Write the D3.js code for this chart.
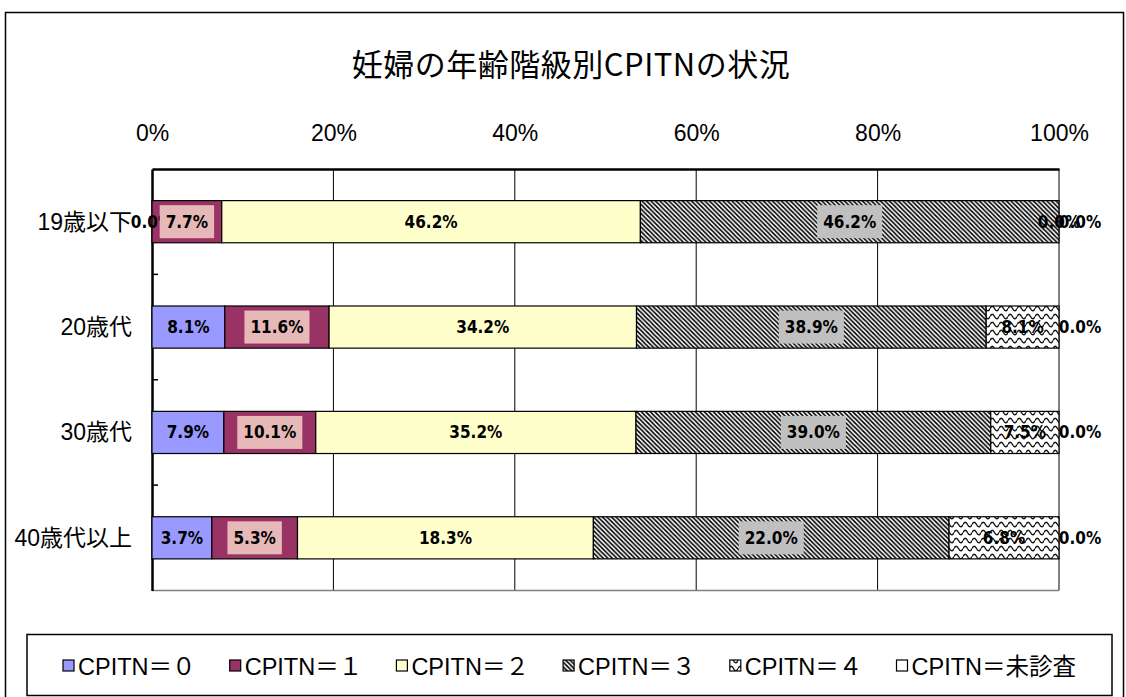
<!DOCTYPE html>
<html><head><meta charset="utf-8">
<script src="https://cdn.jsdelivr.net/npm/d3@7"></script>
<style>
html,body{margin:0;padding:0;background:#fff;}
svg{display:block;}
</style></head>
<body>
<svg id="chart" width="1126" height="697"></svg>
<script>
const title = "妊婦の年齢階級別CPITNの状況";
const categories = ["19歳以下", "20歳代", "30歳代", "40歳代以上"];
const seriesNames = ["CPITN＝０", "CPITN＝１", "CPITN＝２", "CPITN＝３", "CPITN＝４", "CPITN＝未診査"];
const cpitn0 = [0.0, 8.1, 7.9, 3.7];
const cpitn1 = [7.7, 11.6, 10.1, 5.3];
const cpitn2 = [46.2, 34.2, 35.2, 18.3];
const cpitn3 = [46.2, 38.9, 39.0, 22.0];
const cpitn4 = [0.0, 8.1, 7.5, 6.8];
const cpitnNone = [0.0, 0.0, 0.0, 0.0];
const xTickValues = [0, 0.2, 0.4, 0.6, 0.8, 1.0];
const xTickLabels = ["0%", "20%", "40%", "60%", "80%", "100%"];

const seriesValues = [cpitn0, cpitn1, cpitn2, cpitn3, cpitn4, cpitnNone];
const table = categories.map((c, i) => {
  const row = {category: c};
  seriesNames.forEach((s, j) => row[s] = seriesValues[j][i]);
  return row;
});

const svg = d3.select("#chart");
const defs = svg.append("defs");

// hatch pattern (dark diagonal)
const hatch = defs.append("pattern").attr("id", "hatch").attr("patternUnits", "userSpaceOnUse")
  .attr("width", 4.5).attr("height", 4.5);
hatch.append("rect").attr("width", 4.5).attr("height", 4.5).attr("fill", "#fff");
hatch.append("path").attr("d", "M-1,-1L5.5,5.5M3.5,-1L5.5,1M-1,3.5L1,5.5")
  .attr("stroke", "#000").attr("stroke-width", 1.6);

// wave pattern
const wave = defs.append("pattern").attr("id", "wave").attr("patternUnits", "userSpaceOnUse")
  .attr("width", 9).attr("height", 8);
wave.append("rect").attr("width", 9).attr("height", 8).attr("fill", "#fff");
wave.append("path").attr("d", "M0,4.5Q2.25,0 4.5,4.5T9,4.5")
  .attr("fill", "none").attr("stroke", "#111").attr("stroke-width", 1.4);

const fills = ["#9999FF", "#993366", "#FFFFCC", "url(#hatch)", "url(#wave)", "#FFFFFF"];
const labelBg = [null, "#E6B8B7", null, "#C0C0C0", null, null];

// outer chart border
svg.append("rect").attr("x", 5.5).attr("y", 12.5).attr("width", 1118).attr("height", 720)
  .attr("fill", "none").attr("stroke", "#000").attr("stroke-width", 1.5);

// title
svg.append("text").attr("x", 571).attr("y", 62).attr("text-anchor", "middle")
  .attr("dominant-baseline", "central")
  .style("font-family", "'Noto Sans CJK JP', sans-serif").style("font-size", "31px")
  .style("letter-spacing", "0.5px")
  .text(title);

const plot = {left: 152, right: 1059, top: 169, bottom: 590.5};
const x = d3.scaleLinear().domain([0, 1]).range([plot.left, plot.right]);
const y = d3.scaleBand().domain(categories).range([plot.top, plot.bottom])
  .paddingInner(0.6).paddingOuter(0.3);

// gridlines
svg.append("g").selectAll("line").data(xTickValues.slice(1, -1)).join("line")
  .attr("x1", d => x(d)).attr("x2", d => x(d))
  .attr("y1", plot.top).attr("y2", plot.bottom)
  .attr("stroke", "#000").attr("stroke-width", 1);

// plot border right/bottom grey
svg.append("line").attr("x1", x(1)).attr("x2", x(1)).attr("y1", plot.top).attr("y2", plot.bottom)
  .attr("stroke", "#808080").attr("stroke-width", 2);
svg.append("line").attr("x1", plot.left).attr("x2", plot.right).attr("y1", plot.bottom).attr("y2", plot.bottom)
  .attr("stroke", "#808080").attr("stroke-width", 1.5);

// top axis
const xAxis = d3.axisTop(x).tickValues(xTickValues).tickFormat((d, i) => xTickLabels[i]).tickSize(0).tickPadding(0);
const gx = svg.append("g").attr("transform", `translate(0,${plot.top})`).call(xAxis);
gx.select(".domain").attr("stroke", "#000").attr("stroke-width", 2.5);
gx.selectAll("text").attr("y", 0).attr("dy", null).attr("transform", "translate(0,-36)")
  .attr("dominant-baseline", "central")
  .style("font-family", "'Liberation Sans', Arial, sans-serif").style("font-size", "23px").attr("fill", "#000");

// left axis
const yAxis = d3.axisLeft(y).tickSize(0).tickPadding(20);
const gy = svg.append("g").attr("transform", `translate(${plot.left},0)`).call(yAxis);
gy.select(".domain").attr("stroke", "#000").attr("stroke-width", 2.5);
gy.selectAll("text").attr("dy", null).attr("dominant-baseline", "central")
  .style("font-family", "'Liberation Sans', 'Noto Sans CJK JP', sans-serif").style("font-size", "23px").attr("fill", "#000");
// inward category boundary ticks
const boundaries = categories.slice(1).map(c => y(c) - y.step() * y.paddingInner() / 2);
svg.append("g").selectAll("line").data(boundaries).join("line")
  .attr("x1", plot.left).attr("x2", plot.left + 6).attr("y1", d => d).attr("y2", d => d)
  .attr("stroke", "#000").attr("stroke-width", 1.5);

// stacked bars (100% stacked)
const stack = d3.stack().keys(seriesNames).offset(d3.stackOffsetExpand);
const stacked = stack(table);

const gBars = svg.append("g");
stacked.forEach((layer, si) => {
  gBars.append("g").selectAll("rect").data(layer).join("rect")
    .attr("x", d => x(d[0])).attr("width", d => Math.max(0, x(d[1]) - x(d[0])))
    .attr("y", d => y(d.data.category)).attr("height", y.bandwidth())
    .attr("fill", fills[si]).attr("stroke", "#000").attr("stroke-width", 1.2);
});

// data labels
const gLabels = svg.append("g");
const lastIdx = seriesNames.length - 1;
stacked.forEach((layer, si) => {
  layer.forEach((d, ci) => {
    const val = seriesValues[si][ci];
    let cx = (x(d[0]) + x(d[1])) / 2;
    if (si === lastIdx) cx = x(d[1]) + 21;
    const cy = y(d.data.category) + y.bandwidth() / 2;
    const g = gLabels.append("g");
    const bg = g.append("rect");
    const t = g.append("text").attr("x", cx).attr("y", cy)
      .attr("text-anchor", "middle").attr("dominant-baseline", "central")
      .style("font-family", "'Liberation Sans Narrow', 'DejaVu Sans Condensed', sans-serif")
      .style("font-weight", "bold").style("font-size", "17px").attr("fill", "#000")
      .text(val.toFixed(1) + "%");
    if (labelBg[si]) {
      const w = t.node().getComputedTextLength() + 12;
      bg.attr("x", cx - w / 2).attr("y", cy - 16.5).attr("width", w).attr("height", 33)
        .attr("fill", labelBg[si]);
    } else {
      bg.remove();
    }
  });
});

// legend
svg.append("rect").attr("x", 27).attr("y", 634.5).attr("width", 1085).attr("height", 61)
  .attr("fill", "#fff").attr("stroke", "#000").attr("stroke-width", 1.5);
const legendY = 666;
const legendX0 = 63, legendStep = 166.7;
const gLeg = svg.append("g");
seriesNames.forEach((s, i) => {
  const lx = legendX0 + i * legendStep;
  gLeg.append("rect").attr("x", lx).attr("y", legendY - 6).attr("width", 11).attr("height", 11)
    .attr("fill", fills[i]).attr("stroke", "#000").attr("stroke-width", 1.2);
  gLeg.append("text").attr("x", lx + 15).attr("y", legendY + 1).attr("dominant-baseline", "central")
    .style("font-family", "'Liberation Sans', 'Noto Sans CJK JP', sans-serif").style("font-size", "23.5px")
    .attr("fill", "#000").text(s);
});
</script>
</body></html>
